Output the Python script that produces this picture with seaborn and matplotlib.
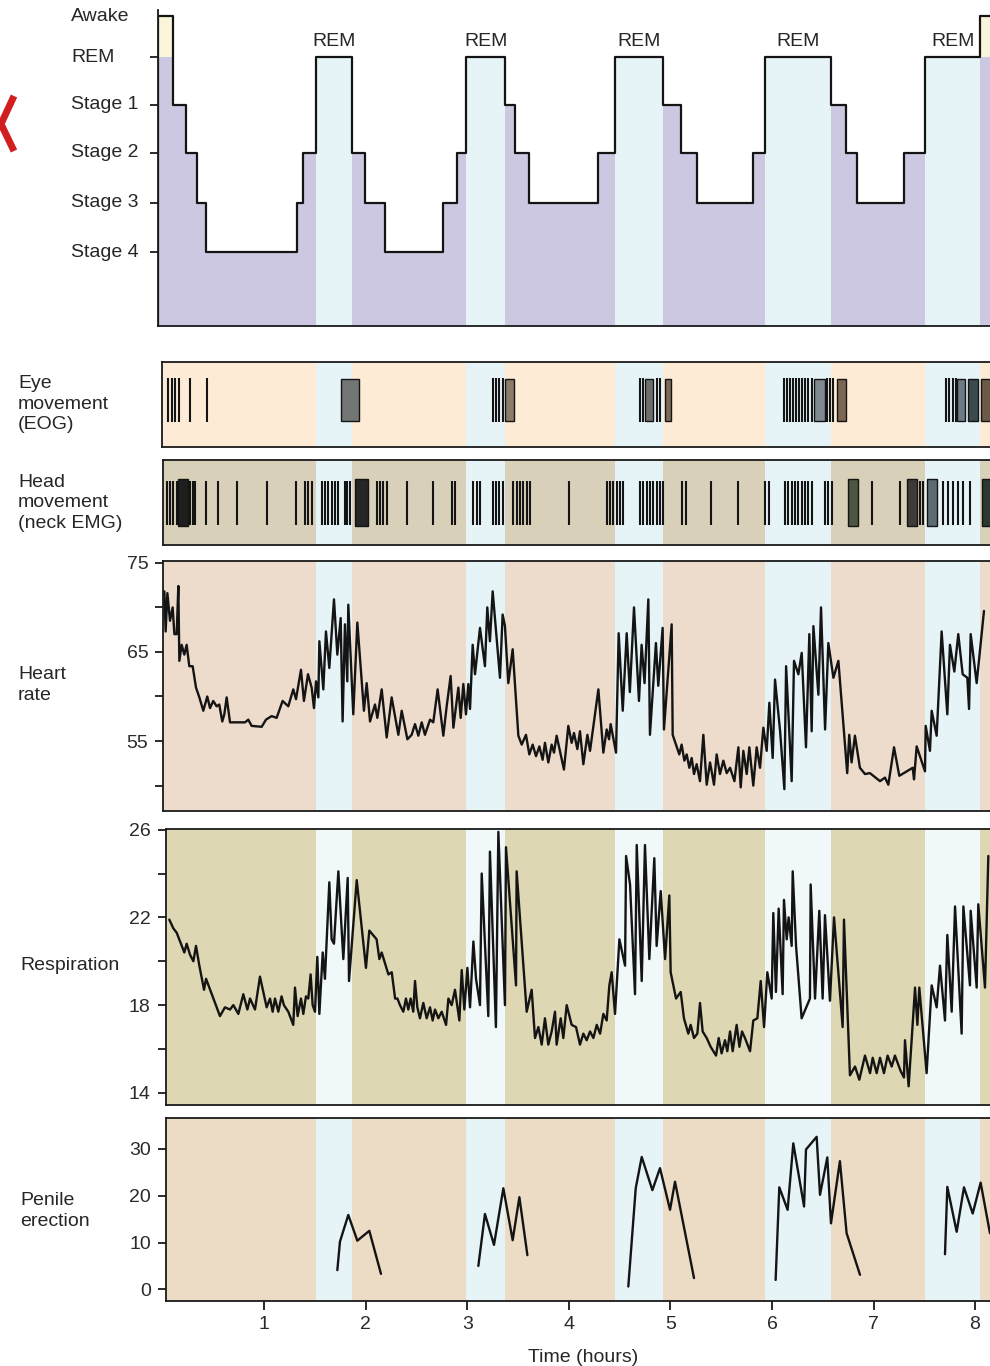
import numpy as np
import pandas as pd
import matplotlib
matplotlib.use("Agg")
import matplotlib.pyplot as plt
from matplotlib.lines import Line2D
from matplotlib.transforms import blended_transform_factory
import seaborn as sns

# ---------------------------------------------------------------- data
# Sleep stages (hypnogram): onset time of each stage, in hours
hyp_t = [-0.045, 0.10, 0.23, 0.34, 0.43, 1.32, 1.38, 1.51, 1.86, 1.99, 2.19,
         2.76, 2.90, 2.99, 3.37, 3.47, 3.61, 4.29, 4.45, 4.93, 5.10, 5.26,
         5.81, 5.93, 6.58, 6.73, 6.84, 7.30, 7.51, 8.05]
hyp_stage = ["Awake", "Stage 1", "Stage 2", "Stage 3", "Stage 4", "Stage 3",
             "Stage 2", "REM", "Stage 2", "Stage 3", "Stage 4", "Stage 3",
             "Stage 2", "REM", "Stage 1", "Stage 2", "Stage 3", "Stage 2",
             "REM", "Stage 1", "Stage 2", "Stage 3", "Stage 2", "REM",
             "Stage 1", "Stage 2", "Stage 3", "Stage 2", "REM", "Awake"]
hyp_end = 8.25
stage_names = ["Awake", "REM", "Stage 1", "Stage 2", "Stage 3", "Stage 4"]

# Eye movements (EOG): single movements and dense bursts (start, end), hours
eog_marks = [0.055, 0.087, 0.120, 0.163, 0.268, 0.432,
             3.249, 3.282, 3.315, 3.348,
             4.700, 4.733, 4.870, 4.900,
             6.118, 6.148, 6.177, 6.207, 6.236, 6.266, 6.295, 6.325, 6.358,
             6.391, 6.538, 6.571, 6.604,
             7.714, 7.747, 7.780, 7.812]
eog_bursts = [(1.752, 1.929), (3.370, 3.459), (4.750, 4.830), (4.945, 5.005),
              (6.410, 6.520), (6.637, 6.730), (7.820, 7.900), (7.930, 8.030),
              (8.055, 8.200)]

# Head movements (neck EMG)
emg_marks = [0.038, 0.071, 0.104, 0.137, 0.268, 0.294, 0.317, 0.425, 0.547,
             0.728, 1.023, 1.312, 1.400, 1.433, 1.466, 1.564, 1.597, 1.630,
             1.663, 1.696, 1.729, 1.794, 1.817, 1.844, 2.106, 2.139, 2.172,
             2.205, 2.402, 2.664, 2.845, 2.878, 3.059, 3.092, 3.124, 3.249,
             3.282, 3.315, 3.348, 3.453, 3.485, 3.518, 3.551, 3.584, 3.617,
             4.001, 4.372, 4.405, 4.438, 4.471, 4.503, 4.536, 4.700, 4.733,
             4.766, 4.799, 4.832, 4.864, 4.897, 4.930, 5.110, 5.153, 5.396,
             5.669, 5.931, 5.974, 6.129, 6.161, 6.194, 6.227, 6.260, 6.293,
             6.325, 6.358, 6.391, 6.522, 6.555, 6.588, 6.988, 7.261, 7.458,
             7.491, 7.688, 7.737, 7.787, 7.836, 7.885, 7.951]
emg_bursts = [(0.153, 0.251), (1.893, 2.024), (6.752, 6.851), (7.327, 7.425),
              (7.524, 7.623), (8.066, 8.200)]

# Heart rate (beats/min)
hr_t = [0.015, 0.028, 0.045, 0.071, 0.097, 0.114, 0.137, 0.153, 0.163, 0.186,
        0.212, 0.235, 0.261, 0.294, 0.327, 0.360, 0.399, 0.438, 0.465, 0.497,
        0.530, 0.556, 0.586, 0.606, 0.629, 0.662, 0.810, 0.842, 0.875, 0.974,
        1.016, 1.072, 1.121, 1.180, 1.236, 1.285, 1.312, 1.361, 1.390, 1.430,
        1.466, 1.489, 1.509, 1.532, 1.542, 1.581, 1.607, 1.640, 1.686, 1.719,
        1.752, 1.771, 1.794, 1.817, 1.827, 1.876, 1.916, 1.981, 2.008, 2.041,
        2.090, 2.113, 2.156, 2.205, 2.254, 2.320, 2.353, 2.409, 2.451, 2.484,
        2.517, 2.550, 2.582, 2.632, 2.664, 2.707, 2.763, 2.796, 2.835, 2.862,
        2.911, 2.934, 2.960, 2.986, 3.009, 3.026, 3.052, 3.075, 3.124, 3.173,
        3.196, 3.222, 3.249, 3.321, 3.347, 3.370, 3.403, 3.446, 3.502, 3.535,
        3.577, 3.610, 3.643, 3.676, 3.709, 3.741, 3.764, 3.797, 3.830, 3.853,
        3.879, 3.951, 3.994, 4.027, 4.050, 4.083, 4.109, 4.142, 4.182, 4.208,
        4.290, 4.339, 4.372, 4.395, 4.411, 4.464, 4.490, 4.530, 4.569, 4.600,
        4.641, 4.690, 4.716, 4.745, 4.782, 4.798, 4.857, 4.880, 4.923, 4.936,
        5.012, 5.022, 5.087, 5.110, 5.137, 5.160, 5.186, 5.209, 5.232, 5.258,
        5.291, 5.324, 5.357, 5.390, 5.429, 5.455, 5.488, 5.521, 5.554, 5.587,
        5.630, 5.669, 5.692, 5.718, 5.751, 5.777, 5.816, 5.849, 5.882, 5.915,
        5.948, 5.974, 6.007, 6.030, 6.080, 6.122, 6.139, 6.194, 6.217, 6.260,
        6.293, 6.335, 6.368, 6.391, 6.408, 6.457, 6.483, 6.523, 6.555, 6.605,
        6.654, 6.741, 6.761, 6.784, 6.817, 6.866, 6.916, 6.965, 6.998, 7.064,
        7.113, 7.146, 7.202, 7.254, 7.386, 7.399, 7.425, 7.507, 7.514, 7.556,
        7.573, 7.622, 7.671, 7.727, 7.753, 7.796, 7.835, 7.878, 7.924, 7.941,
        7.957, 8.016, 8.088]
hr_bpm = [71.8, 67.3, 71.6, 68.5, 70.0, 67.0, 67.0, 72.4, 64.0, 65.8,
          64.7, 65.8, 63.4, 63.4, 61.0, 59.9, 58.4, 60.0, 58.7, 59.5,
          58.9, 59.1, 57.2, 58.0, 59.9, 57.1, 57.1, 57.4, 56.7, 56.6,
          57.4, 57.8, 57.6, 59.5, 58.9, 60.8, 59.7, 63.0, 59.5, 62.5,
          61.0, 58.7, 61.7, 59.9, 66.2, 60.8, 67.3, 63.2, 70.9, 64.7,
          68.8, 57.2, 68.1, 61.7, 70.3, 58.0, 68.3, 58.4, 61.5, 57.2,
          59.1, 57.6, 60.8, 55.4, 59.9, 55.7, 58.4, 55.2, 55.7, 56.9,
          55.6, 57.1, 55.7, 57.4, 57.1, 60.8, 55.6, 58.9, 62.3, 56.5,
          61.0, 57.6, 61.4, 58.0, 61.4, 58.6, 65.8, 62.5, 67.7, 63.4,
          70.0, 66.2, 71.8, 62.1, 69.2, 67.9, 61.5, 65.3, 55.6, 54.6,
          55.7, 53.5, 54.6, 53.3, 54.4, 52.9, 54.8, 52.6, 54.6, 53.7,
          55.6, 51.8, 56.7, 54.8, 55.9, 54.1, 56.1, 52.4, 55.7, 53.9,
          60.8, 53.7, 56.3, 55.2, 56.9, 53.7, 67.1, 58.4, 67.1, 60.5,
          70.0, 59.5, 65.8, 61.5, 70.9, 55.7, 66.0, 61.2, 67.7, 56.3,
          68.1, 55.7, 53.5, 54.6, 52.8, 53.5, 52.0, 53.1, 51.3, 52.4,
          50.5, 55.7, 50.1, 52.6, 50.1, 53.5, 51.3, 52.8, 51.4, 52.0,
          50.5, 54.3, 49.8, 53.9, 51.3, 54.3, 50.0, 54.3, 52.0, 56.5,
          53.9, 59.3, 53.1, 61.9, 56.1, 49.6, 63.4, 50.5, 64.0, 62.5,
          64.9, 54.3, 67.0, 56.1, 67.9, 60.2, 70.0, 56.3, 66.0, 62.1,
          64.0, 51.4, 55.7, 52.6, 55.6, 52.0, 51.3, 51.4, 51.1, 50.5,
          50.9, 50.1, 54.3, 51.1, 52.0, 50.7, 54.4, 51.6, 56.7, 53.9,
          58.4, 55.6, 67.3, 58.0, 65.8, 62.8, 67.0, 62.5, 62.1, 58.6,
          67.0, 61.5, 69.6]

# Respiration (breaths/min)
resp_t = [0.064, 0.104, 0.137, 0.170, 0.212, 0.235, 0.268, 0.301, 0.327, 0.360,
          0.406, 0.426, 0.498, 0.563, 0.612, 0.662, 0.695, 0.744, 0.793, 0.833,
          0.859, 0.908, 0.957, 1.023, 1.056, 1.082, 1.105, 1.138, 1.170, 1.193,
          1.236, 1.285, 1.302, 1.328, 1.361, 1.384, 1.410, 1.433, 1.456, 1.476,
          1.499, 1.522, 1.542, 1.575, 1.597, 1.640, 1.663, 1.686, 1.729, 1.778,
          1.821, 1.834, 1.910, 2.001, 2.034, 2.106, 2.133, 2.156, 2.222, 2.255,
          2.288, 2.311, 2.336, 2.369, 2.395, 2.418, 2.441, 2.467, 2.484, 2.507,
          2.533, 2.566, 2.599, 2.632, 2.658, 2.681, 2.714, 2.747, 2.790, 2.813,
          2.845, 2.878, 2.921, 2.944, 2.970, 3.000, 3.026, 3.059, 3.085, 3.124,
          3.141, 3.206, 3.222, 3.281, 3.305, 3.370, 3.380, 3.479, 3.485, 3.584,
          3.633, 3.666, 3.699, 3.732, 3.764, 3.797, 3.830, 3.863, 3.879, 3.919,
          3.945, 3.978, 4.027, 4.070, 4.109, 4.142, 4.175, 4.208, 4.241, 4.274,
          4.307, 4.339, 4.372, 4.398, 4.421, 4.454, 4.497, 4.553, 4.563, 4.602,
          4.651, 4.668, 4.717, 4.749, 4.792, 4.841, 4.864, 4.904, 4.947, 4.989,
          5.002, 5.055, 5.101, 5.133, 5.176, 5.199, 5.232, 5.265, 5.291, 5.317,
          5.357, 5.396, 5.449, 5.475, 5.504, 5.537, 5.560, 5.587, 5.613, 5.652,
          5.679, 5.705, 5.734, 5.784, 5.816, 5.856, 5.889, 5.922, 5.954, 5.997,
          6.013, 6.039, 6.066, 6.105, 6.118, 6.145, 6.164, 6.194, 6.204, 6.237,
          6.292, 6.374, 6.381, 6.424, 6.466, 6.499, 6.522, 6.571, 6.611, 6.696,
          6.709, 6.768, 6.818, 6.860, 6.916, 6.966, 6.992, 7.031, 7.064, 7.103,
          7.139, 7.179, 7.211, 7.267, 7.300, 7.310, 7.346, 7.409, 7.432, 7.451,
          7.523, 7.573, 7.622, 7.655, 7.704, 7.727, 7.770, 7.803, 7.868, 7.885,
          7.950, 7.957, 8.016, 8.032, 8.098, 8.131]
resp_rate = [21.9, 21.5, 21.3, 20.9, 20.4, 20.8, 20.3, 20.0, 20.7, 19.8,
             18.7, 19.2, 18.3, 17.5, 17.9, 17.8, 18.0, 17.6, 18.5, 17.8,
             18.3, 17.8, 19.3, 17.9, 18.3, 17.7, 18.3, 17.7, 18.4, 18.0,
             17.7, 17.1, 18.8, 17.5, 18.3, 17.6, 18.4, 18.3, 19.4, 18.0,
             17.7, 20.2, 17.6, 20.4, 19.2, 23.6, 21.0, 20.8, 24.1, 20.1,
             23.8, 19.1, 23.7, 19.7, 21.4, 21.0, 20.1, 20.4, 19.4, 19.5,
             18.3, 18.3, 18.0, 17.7, 18.3, 17.8, 18.3, 17.7, 19.1, 17.9,
             17.4, 18.1, 17.4, 17.9, 17.3, 17.8, 17.4, 17.7, 17.1, 18.3,
             18.0, 18.7, 17.3, 19.6, 17.8, 19.7, 17.9, 20.9, 19.2, 18.0,
             24.0, 17.5, 25.0, 17.0, 25.9, 18.0, 25.2, 18.9, 24.1, 17.7,
             18.7, 16.5, 17.0, 16.2, 17.4, 16.2, 16.8, 17.7, 16.2, 17.4,
             16.5, 18.0, 17.1, 17.0, 16.2, 16.7, 16.4, 16.8, 16.5, 17.1,
             16.7, 17.6, 17.3, 18.9, 19.5, 17.6, 21.0, 19.8, 24.8, 23.5,
             18.5, 25.3, 19.1, 25.3, 20.1, 24.7, 20.7, 23.2, 20.1, 23.0,
             19.5, 18.3, 18.6, 17.4, 16.7, 17.1, 16.5, 16.7, 18.1, 16.8,
             16.5, 16.1, 15.7, 16.5, 15.8, 16.4, 15.9, 16.8, 15.9, 17.1,
             16.1, 16.8, 16.5, 15.9, 17.3, 17.4, 19.1, 17.0, 19.5, 18.3,
             22.2, 18.6, 22.4, 18.5, 22.8, 21.0, 22.0, 20.7, 24.1, 20.7,
             17.4, 18.3, 23.5, 18.3, 22.3, 18.3, 22.1, 18.2, 22.0, 17.0,
             21.9, 14.8, 15.2, 14.6, 15.7, 14.9, 15.6, 14.9, 15.6, 14.9,
             15.7, 15.2, 15.7, 15.0, 14.7, 16.4, 14.3, 18.8, 17.1, 18.8,
             14.9, 18.9, 17.9, 19.8, 17.3, 21.2, 17.7, 22.5, 16.7, 22.5,
             18.9, 22.3, 18.8, 22.6, 18.8, 24.8]

# Penile erection, recorded as separate episodes
pe_episode = [1] * 6 + [2] * 7 + [3] * 8 + [4] * 13 + [5] * 7
pe_t = [1.719, 1.745, 1.827, 1.916, 2.034, 2.149,
        3.108, 3.173, 3.262, 3.354, 3.446, 3.512, 3.591,
        4.585, 4.658, 4.717, 4.822, 4.897, 4.996, 5.045, 5.232,
        6.036, 6.072, 6.154, 6.210, 6.316, 6.335, 6.440, 6.473, 6.545, 6.581,
        6.669, 6.735, 6.867,
        7.704, 7.727, 7.819, 7.891, 7.977, 8.055, 8.147]
pe_value = [4.1, 10.2, 15.9, 10.4, 12.5, 3.3,
            5.0, 16.1, 9.5, 21.6, 10.5, 19.7, 7.3,
            0.6, 21.6, 28.3, 21.2, 25.9, 17.0, 23.0, 2.4,
            2.0, 21.8, 17.0, 31.2, 17.7, 29.9, 32.6, 20.2, 28.2, 14.1,
            27.4, 12.0, 3.1,
            7.5, 21.9, 12.3, 21.8, 16.2, 22.8, 12.0]

hour_ticks = [1, 2, 3, 4, 5, 6, 7, 8]

# ---------------------------------------------------------------- style
sns.set_theme(style="ticks")
plt.rcParams["font.family"] = ["Liberation Sans", "DejaVu Sans"]
plt.rcParams["axes.linewidth"] = 1.3
plt.rcParams["axes.edgecolor"] = "#1a1a1a"
for k in ("xtick", "ytick"):
    plt.rcParams[f"{k}.major.width"] = 1.3
    plt.rcParams[f"{k}.color"] = "#1a1a1a"
    plt.rcParams[f"{k}.labelcolor"] = "#2a2a2a"
    plt.rcParams[f"{k}.labelsize"] = 14

FS = 14
INK = "#141414"
TXT = "#262626"
REM_CYAN = "#e6f4f8"

W, H = 990, 1366
fig = plt.figure(figsize=(W / 100, H / 100), dpi=100)
fig.patch.set_facecolor("white")

T0_PX, PX_PER_H = 162.8, 101.53  # horizontal time scale shared by all panels


def panel(left, top, bottom, right=993):
    ax = fig.add_axes([left / W, 1 - bottom / H, (right - left) / W,
                       (bottom - top) / H])
    ax.set_xlim((left - T0_PX) / PX_PER_H, (right - T0_PX) / PX_PER_H)
    ax.tick_params(axis="x", bottom=False, labelbottom=False)
    ax.set_xlabel("")
    ax.set_ylabel("")
    return ax


# REM periods follow from the hypnogram
seg_end = hyp_t[1:] + [hyp_end]
rem_periods = [(a, b) for a, b, s in zip(hyp_t, seg_end, hyp_stage) if s == "REM"]


def shade(ax, base, rem=REM_CYAN):
    ax.set_facecolor(base)
    for a, b in rem_periods:
        ax.axvspan(a, b, color=rem, lw=0, zorder=0.2)


# ---------------------------------------------------------------- hypnogram
level = dict(zip(stage_names, [0.0, 0.877, 1.871, 2.896, 3.953, 5.0]))
ybot, ytop = 6.554, -0.127
ax0 = panel(158.3, 10, 326)
ax0.set_ylim(ybot, ytop)
lav = "#ccc8e1"
for a, b, s in zip(hyp_t, seg_end, hyp_stage):
    if s == "REM":
        ax0.fill_between([a, b], level[s], ybot, color=REM_CYAN, lw=0)
    elif s == "Awake":
        ax0.fill_between([a, b], level[s], level["REM"], color="#faf5da", lw=0)
        ax0.fill_between([a, b], level["REM"], ybot, color=lav, lw=0)
    else:
        ax0.fill_between([a, b], level[s], ybot, color=lav, lw=0)

step_x = [hyp_t[0]] + hyp_t + [hyp_end]
step_y = [ybot] + [level[s] for s in hyp_stage] + [level[hyp_stage[-1]]]
sns.lineplot(x=step_x, y=step_y, ax=ax0, drawstyle="steps-post", sort=False,
             estimator=None, color=INK, lw=1.6)
ax0.set_xlim((158.3 - T0_PX) / PX_PER_H, (993 - T0_PX) / PX_PER_H)
ax0.set_ylim(ybot, ytop)
for side in ("top", "right"):
    ax0.spines[side].set_visible(False)
ax0.set_yticks([level[s] for s in stage_names[1:]])
ax0.set_yticklabels([])
ax0.tick_params(axis="y", length=5.8, direction="out")
lab_tr = blended_transform_factory(fig.transFigure, ax0.transData)
for s in stage_names:
    ax0.text(71 / W, level[s], s, transform=lab_tr, ha="left", va="center",
             fontsize=FS, color=TXT)
for a, b in rem_periods:
    ax0.text((a + b) / 2, 0.53, "REM", ha="center", va="center",
             fontsize=FS, color=TXT)
ax0.set_xlabel("")
ax0.set_ylabel("")

# ---------------------------------------------------------------- EOG
ax1 = panel(162.3, 362, 446.5)
shade(ax1, "#fdebd6")
ax1.set_ylim(0, 1)
ax1.set_yticks([])
ax1.vlines(eog_marks, 0.29, 0.81, color=INK, lw=1.5)
burst_fc = ["#727674", "#8a7c68", "#6f706a", "#7a6a58", "#7f8a90",
            "#7a6652", "#6c7c84", "#3c4a4c", "#6a5a48"]
for (a, b), fc in zip(eog_bursts, burst_fc):
    ax1.axvspan(a, b, ymin=0.3, ymax=0.8, facecolor=fc, edgecolor=INK, lw=1.0)

# ---------------------------------------------------------------- EMG
ax2 = panel(163.3, 460.5, 545)
shade(ax2, "#d9d0b9")
ax2.set_ylim(0, 1)
ax2.set_yticks([])
ax2.vlines(emg_marks, 0.24, 0.76, color=INK, lw=1.5)
emg_fc = ["#1e1e1e", "#262626", "#4d5543", "#3e3b36", "#5c6c72", "#2a3a30"]
for (a, b), fc in zip(emg_bursts, emg_fc):
    ax2.axvspan(a, b, ymin=0.22, ymax=0.78, facecolor=fc, edgecolor=INK, lw=1.0)

# ---------------------------------------------------------------- heart rate
ax3 = panel(163.3, 561.5, 811)
shade(ax3, "#eddccc")
sns.lineplot(x=hr_t, y=hr_bpm, ax=ax3, color=INK, lw=1.7, sort=False,
             estimator=None)
ax3.set_ylim(47.15, 75.15)
ax3.set_yticks([50, 55, 60, 65, 70, 75])
ax3.set_yticklabels(["", "55", "", "65", "", "75"])

# ---------------------------------------------------------------- respiration
ax4 = panel(165.7, 829, 1104.5)
shade(ax4, "#ded7b3", rem="#f1f8fa")
sns.lineplot(x=resp_t, y=resp_rate, ax=ax4, color=INK, lw=1.7, sort=False,
             estimator=None)
ax4.set_ylim(13.47, 26.03)
ax4.set_yticks([14, 16, 18, 20, 22, 24, 26])
ax4.set_yticklabels(["14", "", "18", "", "22", "", "26"])

# ---------------------------------------------------------------- penile erection
ax5 = panel(166, 1118.3, 1301)
shade(ax5, "#eddcc5")
pe = pd.DataFrame({"t": pe_t, "v": pe_value, "episode": pe_episode})
sns.lineplot(data=pe, x="t", y="v", units="episode", estimator=None,
             ax=ax5, color=INK, lw=1.7, sort=False)
ax5.set_ylim(-2.5, 36.56)
ax5.set_yticks([0, 10, 20, 30])
ax5.set_xticks(hour_ticks)
ax5.tick_params(axis="x", bottom=True, labelbottom=True, length=6.5,
                direction="out", pad=4)

for ax in (ax3, ax4, ax5):
    ax.tick_params(axis="y", length=5.8, direction="out", pad=5)
    ax.set_xlabel("")
    ax.set_ylabel("")
for ax in (ax1, ax2, ax3, ax4, ax5):
    ax.set_xlim(ax.get_xlim())

# ---------------------------------------------------------------- labels
def ftext(x, y, s, **kw):
    fig.text(x / W, 1 - y / H, s, fontsize=FS, color=TXT, linespacing=1.3, **kw)


ftext(18, 404, "Eye\nmovement\n(EOG)", ha="left", va="center")
ftext(18, 503, "Head\nmovement\n(neck EMG)", ha="left", va="center")
ftext(18, 685, "Heart\nrate", ha="left", va="center")
ftext(20, 966, "Respiration", ha="left", va="center")
ftext(20, 1211, "Penile\nerection", ha="left", va="center")
ftext(583, 1357, "Time (hours)", ha="center", va="center")

# red chevron at the left margin
fig.add_artist(Line2D([14 / W, 1 / W, 14 / W],
                      [1 - 96 / H, 1 - 124 / H, 1 - 151 / H],
                      transform=fig.transFigure, color="#d11f1f", lw=5,
                      solid_capstyle="butt", solid_joinstyle="miter"))

fig.savefig("out.png", dpi=100, facecolor="white")
